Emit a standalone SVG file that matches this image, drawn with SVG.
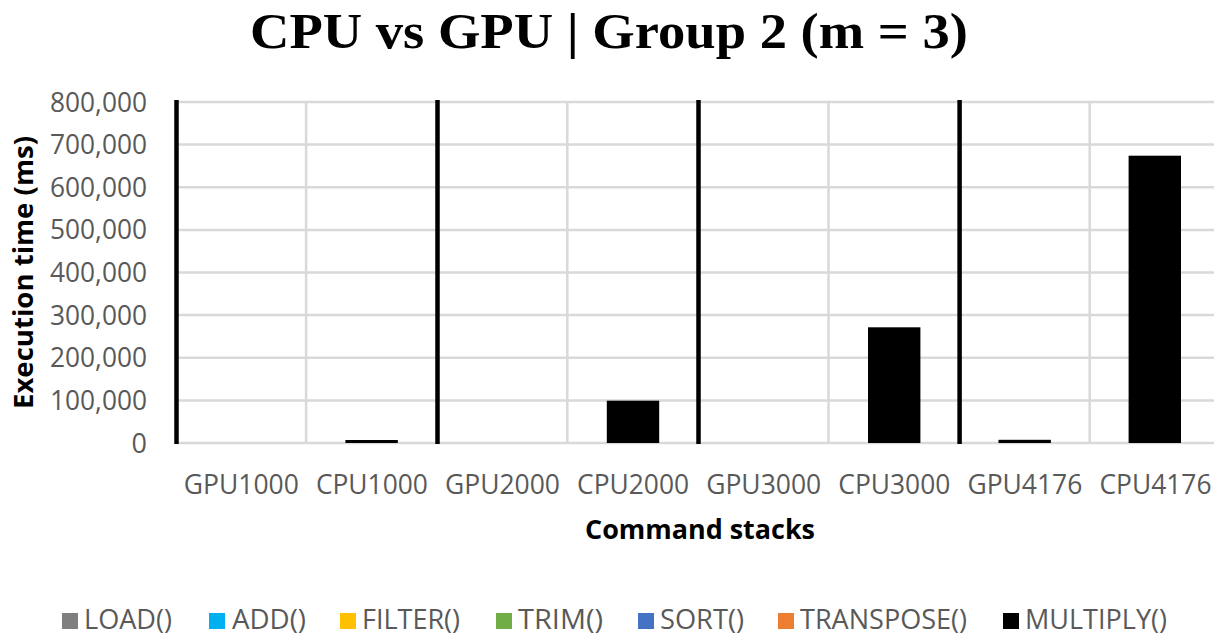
<svg xmlns="http://www.w3.org/2000/svg" width="1214" height="635" viewBox="0 0 1214 635">
  <style>
    .title { font-family: "Liberation Serif", "DejaVu Serif", serif; font-weight: bold; font-size: 51px; fill: #000; }
    .tick { font-family: "Open Sans", "Liberation Sans", sans-serif; font-size: 27px; fill: #595959; }
    .axt { font-family: "Open Sans", "Liberation Sans", sans-serif; font-weight: bold; font-size: 26px; fill: #000; }
    .leg { font-family: "Open Sans", "Liberation Sans", sans-serif; font-size: 27px; fill: #595959; }
    .grid { stroke: #d9d9d9; stroke-width: 2.5; fill: none; }
    .sep { stroke: #000; stroke-width: 4.5; fill: none; }
    .bar { fill: #000; }
  </style>
  <rect width="1214" height="635" fill="#fff"/>

  <text class="title" x="250" y="48" textLength="718" lengthAdjust="spacingAndGlyphs">CPU vs GPU | Group 2 (m = 3)</text>

  <!-- horizontal gridlines, 100,000 ms apart -->
  <g id="gridlines" class="grid">
    <line x1="175" y1="102" x2="1214" y2="102"/>
    <line x1="175" y1="144.6" x2="1214" y2="144.6"/>
    <line x1="175" y1="187.3" x2="1214" y2="187.3"/>
    <line x1="175" y1="229.9" x2="1214" y2="229.9"/>
    <line x1="175" y1="272.5" x2="1214" y2="272.5"/>
    <line x1="175" y1="315.1" x2="1214" y2="315.1"/>
    <line x1="175" y1="357.8" x2="1214" y2="357.8"/>
    <line x1="175" y1="400.4" x2="1214" y2="400.4"/>
    <line x1="175" y1="443" x2="1214" y2="443"/>
    <line x1="306.1" y1="101" x2="306.1" y2="444"/>
    <line x1="567.3" y1="101" x2="567.3" y2="444"/>
    <line x1="828.5" y1="101" x2="828.5" y2="444"/>
    <line x1="1089.7" y1="101" x2="1089.7" y2="444"/>
  </g>

  <!-- group separators -->
  <g id="separators" class="sep">
    <line x1="176.5" y1="100" x2="176.5" y2="444"/>
    <line x1="437.5" y1="100" x2="437.5" y2="444"/>
    <line x1="698.5" y1="100" x2="698.5" y2="444"/>
    <line x1="959.6" y1="100" x2="959.6" y2="444"/>
  </g>

  <!-- MULTIPLY() execution time per command stack -->
  <g id="bars" class="bar">
    <rect id="bar-cpu1000" x="345.4" y="440" width="52.4" height="3"/>
    <rect id="bar-cpu2000" x="606.8" y="400.7" width="52.4" height="42.3"/>
    <rect id="bar-cpu3000" x="868" y="327.3" width="52.4" height="115.7"/>
    <rect id="bar-gpu4176" x="998.5" y="439.8" width="52.4" height="3.2"/>
    <rect id="bar-cpu4176" x="1128.6" y="155.7" width="52.4" height="287.3"/>
  </g>

  <!-- value axis -->
  <g id="y-axis" class="tick" text-anchor="end">
    <text x="147" y="111.5" textLength="97" lengthAdjust="spacingAndGlyphs">800,000</text>
    <text x="147" y="154.1" textLength="97" lengthAdjust="spacingAndGlyphs">700,000</text>
    <text x="147" y="196.8" textLength="97" lengthAdjust="spacingAndGlyphs">600,000</text>
    <text x="147" y="239.4" textLength="97" lengthAdjust="spacingAndGlyphs">500,000</text>
    <text x="147" y="282" textLength="97" lengthAdjust="spacingAndGlyphs">400,000</text>
    <text x="147" y="324.6" textLength="97" lengthAdjust="spacingAndGlyphs">300,000</text>
    <text x="147" y="367.3" textLength="97" lengthAdjust="spacingAndGlyphs">200,000</text>
    <text x="147" y="409.9" textLength="97" lengthAdjust="spacingAndGlyphs">100,000</text>
    <text x="147" y="452.5">0</text>
  </g>
  <text class="axt" transform="translate(33 272.5) rotate(-90)" text-anchor="middle" textLength="273" lengthAdjust="spacingAndGlyphs">Execution time (ms)</text>

  <!-- category axis -->
  <g id="x-axis" class="tick" text-anchor="middle">
    <text x="241.3" y="494" textLength="115" lengthAdjust="spacingAndGlyphs">GPU1000</text>
    <text x="371.9" y="494" textLength="112" lengthAdjust="spacingAndGlyphs">CPU1000</text>
    <text x="502.5" y="494" textLength="115" lengthAdjust="spacingAndGlyphs">GPU2000</text>
    <text x="633.1" y="494" textLength="112" lengthAdjust="spacingAndGlyphs">CPU2000</text>
    <text x="763.7" y="494" textLength="115" lengthAdjust="spacingAndGlyphs">GPU3000</text>
    <text x="894.3" y="494" textLength="112" lengthAdjust="spacingAndGlyphs">CPU3000</text>
    <text x="1024.9" y="494" textLength="115" lengthAdjust="spacingAndGlyphs">GPU4176</text>
    <text x="1155.5" y="494" textLength="112" lengthAdjust="spacingAndGlyphs">CPU4176</text>
  </g>
  <text class="axt" x="700" y="539" text-anchor="middle" textLength="230" lengthAdjust="spacingAndGlyphs">Command stacks</text>

  <!-- legend -->
  <g id="legend">
    <g id="legend-load">
      <rect x="62" y="613" width="16" height="16" fill="#7f7f7f"/>
      <text class="leg" x="84" y="629" textLength="88" lengthAdjust="spacingAndGlyphs">LOAD()</text>
    </g>
    <g id="legend-add">
      <rect x="209" y="613" width="16" height="16" fill="#00b0f0"/>
      <text class="leg" x="232" y="629" textLength="74" lengthAdjust="spacingAndGlyphs">ADD()</text>
    </g>
    <g id="legend-filter">
      <rect x="340" y="613" width="16" height="16" fill="#ffc000"/>
      <text class="leg" x="362" y="629" textLength="98" lengthAdjust="spacingAndGlyphs">FILTER()</text>
    </g>
    <g id="legend-trim">
      <rect x="496" y="613" width="16" height="16" fill="#70ad47"/>
      <text class="leg" x="518" y="629" textLength="85" lengthAdjust="spacingAndGlyphs">TRIM()</text>
    </g>
    <g id="legend-sort">
      <rect x="638" y="613" width="16" height="16" fill="#4472c4"/>
      <text class="leg" x="660" y="629" textLength="84" lengthAdjust="spacingAndGlyphs">SORT()</text>
    </g>
    <g id="legend-transpose">
      <rect x="778" y="613" width="16" height="16" fill="#ed7d31"/>
      <text class="leg" x="800" y="629" textLength="167" lengthAdjust="spacingAndGlyphs">TRANSPOSE()</text>
    </g>
    <g id="legend-multiply">
      <rect x="1003" y="613" width="16" height="16" fill="#000000"/>
      <text class="leg" x="1025" y="629" textLength="142" lengthAdjust="spacingAndGlyphs">MULTIPLY()</text>
    </g>
  </g>
</svg>
